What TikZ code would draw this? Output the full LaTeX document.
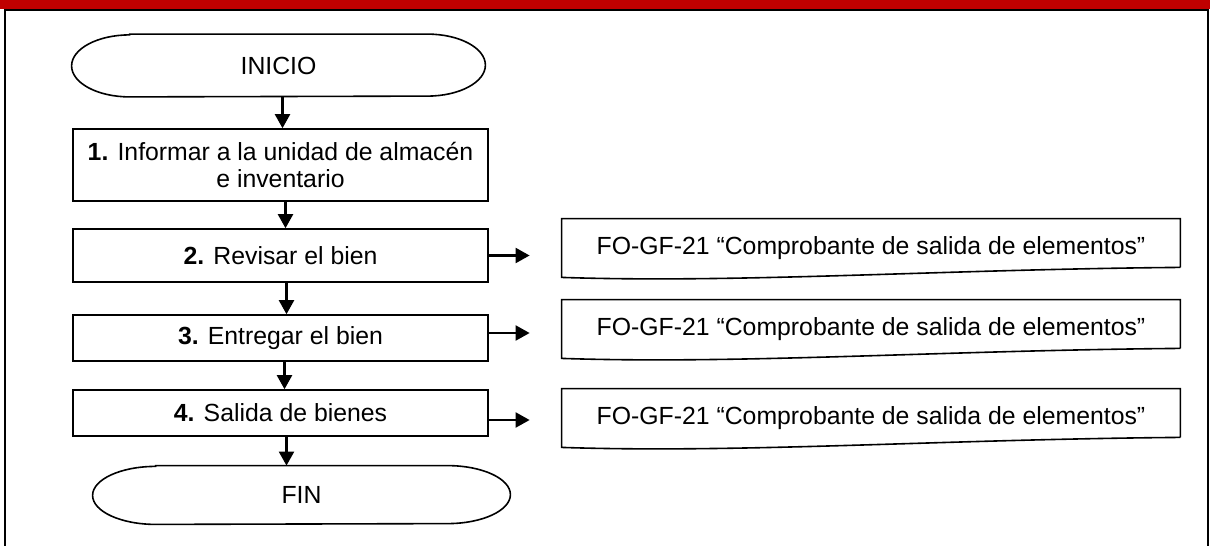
\documentclass[tikz,border=0pt]{standalone}
\usepackage{fontspec}
\setmainfont{Liberation Sans}
\usetikzlibrary{arrows.meta}
\definecolor{bandred}{HTML}{C00000}

\begin{document}
\begin{tikzpicture}[x=0.5pt,y=-0.5pt,>={Triangle[length=7pt,width=7.5pt]},
  font=\fontsize{12.4}{13.8}\selectfont,
  proc/.style={draw,line width=0.8pt,minimum width=207.5pt,align=center,inner sep=0pt},
  docu/.style={minimum width=309pt,minimum height=24pt,inner sep=0pt,
    text height=14pt,text depth=3pt},
  term/.style={minimum width=#1,minimum height=0pt,inner sep=0pt},
  flow/.style={->,line width=1.1pt}]

% terminal: nombre, radio x, radio y
\def\terminal#1#2#3{%
  \draw[line width=0.8pt] ([xshift=#2]#1.north west) -- ([xshift=-#2]#1.north east)
    arc[start angle=90,end angle=-90,x radius=#2,y radius=#3]
    -- ([xshift=#2]#1.south west)
    arc[start angle=270,end angle=90,x radius=#2,y radius=#3] -- cycle;}
% documento con borde inferior ondulado
\def\documento#1{%
  \draw[line width=0.8pt] (#1.south east) -- (#1.north east) -- (#1.north west)
    -- ([yshift=-5pt]#1.south west)
    .. controls ([xshift=90pt,yshift=-8pt]#1.south west)
    and ([xshift=-120pt,yshift=-1pt]#1.south east) .. (#1.south east);}

\useasboundingbox (0,0) rectangle (1210,546);

% Franja y marco
\fill[bandred] (0,0) rectangle (1210,9);
\draw[line width=1pt] (5,546) -- (5,9.5) -- (1208,9.5) -- (1208,546);

% Inicio / fin
\node[term=206.5pt,minimum height=31pt] (ini) at (278.5,65.5) {INICIO};
\terminal{ini}{29pt}{15.5pt}
\node[term=208.5pt,minimum height=29pt] (fin) at (301.5,495) {FIN};
\terminal{fin}{31.5pt}{14.5pt}

% Actividades
\node[proc,minimum height=36pt] (b1) at (280.5,165)
  {\textbf{1.} Informar a la unidad de almacén\\e inventario};
\node[proc,minimum height=26.5pt] (b2) at (280.5,255.5) {\textbf{2.} Revisar el bien};
\node[proc,minimum height=23pt] (b3) at (280.5,338) {\textbf{3.} Entregar el bien};
\node[proc,minimum height=23pt] (b4) at (280.5,413) {\textbf{4.} Salida de bienes};

% Registros
\node[docu] (d1) at (871,243) {FO-GF-21 “Comprobante de salida de elementos”};
\documento{d1}
\node[docu] (d2) at (871,324) {FO-GF-21 “Comprobante de salida de elementos”};
\documento{d2}
\node[docu] (d3) at (871,413) {FO-GF-21 “Comprobante de salida de elementos”};
\documento{d3}

% Flechas verticales
\draw[flow] ([xshift=2pt]ini.south) -- ([xshift=2pt]ini.south |- b1.north);
\draw[flow] ([xshift=2.5pt]b1.south) -- ([xshift=2.5pt]b2.north);
\draw[flow] ([xshift=3pt]b2.south) -- ([xshift=3pt]b3.north);
\draw[flow] ([xshift=2pt]b3.south) -- ([xshift=2pt]b4.north);
\draw[flow] ([xshift=3pt]b4.south) -- ([xshift=3pt]b4.south |- fin.north);

% Flechas a los registros
\coordinate (s2) at (b2.east);
\coordinate (s3) at ([yshift=2.5pt]b3.east);
\coordinate (s4) at ([yshift=-3.5pt]b4.east);
\draw[flow,shorten >=16pt] (s2) -- (s2 -| d1.west);
\draw[flow,shorten >=16pt] (s3) -- (s3 -| d2.west);
\draw[flow,shorten >=16pt] (s4) -- (s4 -| d3.west);

\end{tikzpicture}
\end{document}
